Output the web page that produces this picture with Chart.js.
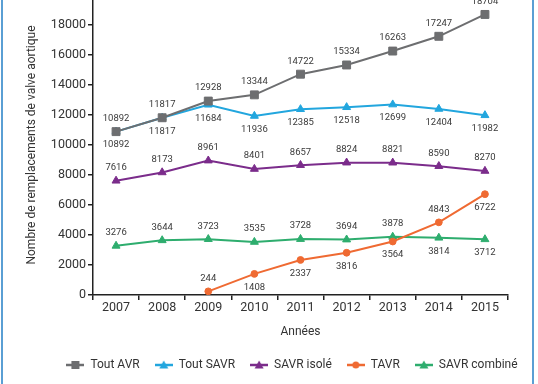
<!DOCTYPE html>
<html><head><meta charset="utf-8">
<script src="https://cdn.jsdelivr.net/npm/chart.js@4/dist/chart.umd.min.js"></script>
<style>
html,body{margin:0;padding:0;background:#fff;width:538px;height:384px;overflow:hidden;position:relative}
#wrap{position:absolute;left:0;top:-20px;width:538px;height:430px}
.frame{position:absolute;top:0;width:2px;height:384px;background:#5a9fd4}
</style></head><body>
<div id="wrap"><canvas id="c"></canvas></div>
<div class="frame" style="left:1px"></div>
<div class="frame" style="left:532px"></div>
<script>
// ---- data ----
const years = ['2007','2008','2009','2010','2011','2012','2013','2014','2015'];
const toutAVR     = [10892, 11817, 12928, 13344, 14722, 15334, 16263, 17247, 18704];
const toutSAVR    = [10892, 11817, 12684, 11936, 12385, 12518, 12699, 12404, 11982];
const savrIsole   = [7616, 8173, 8961, 8401, 8657, 8824, 8821, 8590, 8270];
const tavr        = [null, null, 244, 1408, 2337, 2816, 3564, 4843, 6722];
const savrCombine = [3276, 3644, 3723, 3535, 3728, 3694, 3878, 3814, 3712];
// printed value labels (as printed in the source figure)
const toutAVRText     = toutAVR.map(String);
const toutSAVRText    = ['10892','11817','11684','11936','12385','12518','12699','12404','11982'];
const savrIsoleText   = savrIsole.map(String);
const tavrText        = [null, null, '244', '1408', '2337', '3816', '3564', '4843', '6722'];
const savrCombineText = savrCombine.map(String);
const seriesNames = ['Tout AVR', 'Tout SAVR', 'SAVR isolé', 'TAVR', 'SAVR combiné'];
const yTicks = [0, 2000, 4000, 6000, 8000, 10000, 12000, 14000, 16000, 18000, 20000];

// ---- label placement (a = above, b = below) ----
const sideAVR  = 'aaaaaaaaa';
const sideSAVR = 'bbbbbbbbb';
const sideIso  = 'aaaaaaaaa';
const sideTAVR = '--abbbbab';
const sideComb = 'aaaaaaabb';

const FONT = 'Roboto, "DejaVu Sans", sans-serif';
const colors = ['#6d6e70', '#22a6de', '#7b2c8b', '#ef6a32', '#2ead6e'];
const styles = ['rect', 'triangle', 'triangle', 'circle', 'triangle'];
const radii  = [5.6, 4.6, 4.6, 3.4, 4.6];

function legendIcon(color, style) {
  const c = document.createElement('canvas');
  c.width = 18; c.height = 12;
  const g = c.getContext('2d');
  g.strokeStyle = color; g.fillStyle = color; g.lineWidth = 2.5;
  g.beginPath(); g.moveTo(0, 6); g.lineTo(18, 6); g.stroke();
  g.beginPath();
  if (style === 'rect') g.rect(5, 2, 8, 8);
  else if (style === 'circle') g.arc(9, 6, 3.5, 0, Math.PI * 2);
  else { g.moveTo(9, 1.5); g.lineTo(13.5, 9.5); g.lineTo(4.5, 9.5); g.closePath(); }
  g.fill();
  return c;
}

const seriesValues = [toutAVR, toutSAVR, savrIsole, tavr, savrCombine];
const seriesTexts  = [toutAVRText, toutSAVRText, savrIsoleText, tavrText, savrCombineText];
const seriesSides  = [sideAVR, sideSAVR, sideIso, sideTAVR, sideComb];

const datasets = seriesValues.map((vals, i) => ({
  label: seriesNames[i],
  data: vals,
  borderColor: colors[i],
  backgroundColor: colors[i],
  pointBackgroundColor: colors[i],
  pointBorderColor: colors[i],
  pointStyle: styles[i],
  pointRadius: radii[i],
  pointBorderWidth: 1,
  borderWidth: 2,
  tension: 0,
  spanGaps: false,
  texts: seriesTexts[i],
  sides: seriesSides[i]
}));

const valueLabels = {
  id: 'valueLabels',
  afterDatasetsDraw(chart) {
    const ctx = chart.ctx;
    ctx.save();
    ctx.font = '9.5px ' + FONT;
    ctx.fillStyle = '#3a3a3a';
    ctx.textAlign = 'center';
    ctx.textBaseline = 'middle';
    chart.data.datasets.forEach((ds, di) => {
      const meta = chart.getDatasetMeta(di);
      meta.data.forEach((pt, j) => {
        const t = ds.texts[j];
        if (t == null || ds.data[j] == null) return;
        const dy = ds.sides[j] === 'b' ? 13.5 : -13;
        ctx.fillText(t, pt.x, pt.y + dy);
      });
    });
    ctx.restore();
  }
};

const LEGEND_SHIFT_X = 38;
const LEGEND_SHIFT_Y = 5;
const shiftLegend = {
  id: 'shiftLegend',
  afterLayout(chart) {
    const lg = chart.legend;
    if (lg) {
      lg.left += LEGEND_SHIFT_X; lg.right += LEGEND_SHIFT_X;
      lg.top += LEGEND_SHIFT_Y; lg.bottom += LEGEND_SHIFT_Y;
    }
  }
};

new Chart(document.getElementById('c'), {
  type: 'line',
  data: { labels: years, datasets },
  plugins: [valueLabels, shiftLegend],
  options: {
    responsive: true,
    maintainAspectRatio: false,
    animation: false,
    layout: { padding: { top: 15, right: 30, left: 0, bottom: 34 } },
    plugins: {
      tooltip: { enabled: false },
      legend: {
        position: 'bottom',
        labels: {
          usePointStyle: true,
          pointStyleWidth: 18,
          boxHeight: 12,
          padding: 15,
          color: '#333',
          font: { family: FONT, size: 12 },
          generateLabels(chart) {
            return chart.data.datasets.map((ds, i) => ({
              text: ds.label,
              fillStyle: ds.borderColor,
              strokeStyle: ds.borderColor,
              lineWidth: 0,
              pointStyle: legendIcon(colors[i], styles[i]),
              hidden: false,
              datasetIndex: i,
              fontColor: '#333'
            }));
          }
        }
      }
    },
    scales: {
      x: {
        type: 'category',
        offset: true,
        afterFit(s) { s.height = 44; },
        grid: { offset: true, drawOnChartArea: false, drawTicks: true, tickLength: 5, color: '#222', lineWidth: 1.5 },
        border: { display: true, color: '#222', width: 1.5 },
        ticks: { color: '#333', padding: 0, font: { family: FONT, size: 12.5 } },
        title: { display: true, text: 'Années', color: '#333', padding: { top: 0, bottom: 0 }, font: { family: FONT, size: 12 } }
      },
      y: {
        min: 0,
        max: 20000,
        afterFit(s) { s.width = 93; },
        afterBuildTicks(s) { s.ticks = yTicks.map(v => ({ value: v })); },
        grid: { drawOnChartArea: false, drawTicks: true, tickLength: 5, color: '#222', lineWidth: 1.5 },
        border: { display: true, color: '#222', width: 1.5 },
        ticks: { color: '#333', padding: 2, font: { family: FONT, size: 12.5 }, callback: (v) => String(v) },
        title: { display: true, text: 'Nombre de remplacements de valve aortique', color: '#333', padding: { top: 25, bottom: 4 }, font: { family: FONT, size: 12 } }
      }
    }
  }
});
</script>
</body></html>
